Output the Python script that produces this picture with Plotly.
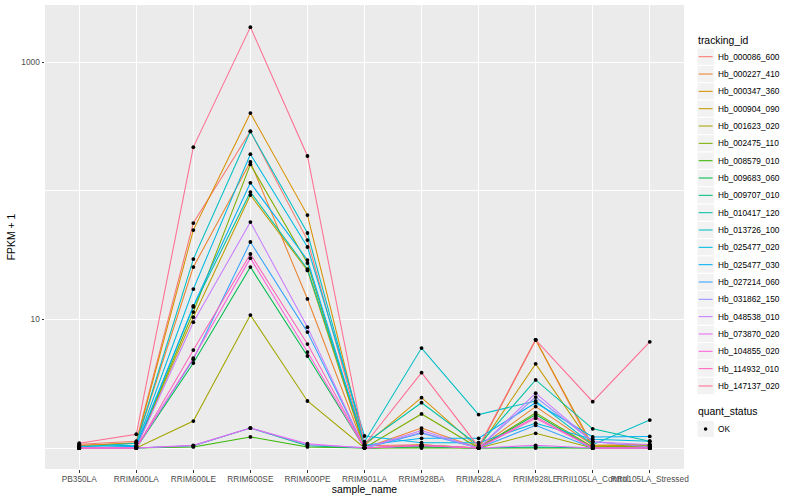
import plotly.graph_objects as go

samples = ["PB350LA", "RRIM600LA", "RRIM600LE", "RRIM600SE", "RRIM600PE",
           "RRIM901LA", "RRIM928BA", "RRIM928LA", "RRIM928LE",
           "RRII105LA_Control", "RRII105LA_Stressed"]

tracking_ids = ["Hb_000086_600", "Hb_000227_410", "Hb_000347_360", "Hb_000904_090",
                "Hb_001623_020", "Hb_002475_110", "Hb_008579_010", "Hb_009683_060",
                "Hb_009707_010", "Hb_010417_120", "Hb_013726_100", "Hb_025477_020",
                "Hb_025477_030", "Hb_027214_060", "Hb_031862_150", "Hb_048538_010",
                "Hb_073870_020", "Hb_104855_020", "Hb_114932_010", "Hb_147137_020"]

# FPKM + 1 per sample (order of `samples`)
hb_000086_600 = [1.07, 1.13, 56.0, 290.0, 41.3, 1.04, 1.06, 1.00, 6.93, 1.00, 1.00]
hb_000227_410 = [1.05, 1.09, 25.5, 167.0, 14.4, 1.00, 1.43, 1.00, 2.10, 1.05, 1.07]
hb_000347_360 = [1.04, 1.10, 49.4, 401.0, 64.6, 1.05, 2.46, 1.00, 6.93, 1.04, 1.05]
hb_000904_090 = [1.00, 1.02, 10.4, 92.5, 24.0, 1.00, 1.06, 1.00, 4.51, 1.03, 1.03]
hb_001623_020 = [1.00, 1.00, 1.62, 10.8, 2.32, 1.00, 1.02, 1.00, 1.30, 1.00, 1.00]
hb_002475_110 = [1.00, 1.01, 11.4, 160.0, 27.4, 1.00, 1.84, 1.00, 1.88, 1.02, 1.04]
hb_008579_010 = [1.00, 1.00, 1.02, 1.22, 1.02, 1.00, 1.00, 1.00, 1.00, 1.00, 1.00]
hb_009683_060 = [1.00, 1.00, 4.58, 25.5, 5.19, 1.00, 1.03, 1.00, 1.82, 1.00, 1.00]
hb_009707_010 = [1.00, 1.00, 1.04, 1.43, 1.04, 1.00, 1.03, 1.00, 1.02, 1.00, 1.00]
hb_010417_120 = [1.00, 1.02, 12.5, 97.5, 24.6, 1.08, 2.25, 1.05, 3.38, 1.41, 1.13]
hb_013726_100 = [1.02, 1.09, 29.4, 288.0, 46.9, 1.12, 5.98, 1.82, 2.32, 1.06, 1.65]
hb_025477_020 = [1.03, 1.05, 17.2, 192.0, 36.5, 1.24, 1.10, 1.10, 1.56, 1.17, 1.13]
hb_025477_030 = [1.00, 1.03, 12.7, 115.0, 28.9, 1.05, 1.19, 1.19, 2.25, 1.22, 1.23]
hb_027214_060 = [1.00, 1.01, 4.90, 39.9, 7.96, 1.00, 1.30, 1.00, 1.50, 1.00, 1.00]
hb_031862_150 = [1.00, 1.00, 1.04, 1.43, 1.06, 1.01, 1.32, 1.00, 2.49, 1.12, 1.02]
hb_048538_010 = [1.00, 1.01, 9.50, 57.0, 8.70, 1.00, 1.37, 1.00, 2.67, 1.12, 1.06]
hb_073870_020 = [1.00, 1.00, 1.05, 1.43, 1.08, 1.00, 1.05, 1.00, 1.05, 1.00, 1.00]
hb_104855_020 = [1.00, 1.00, 5.00, 29.9, 5.57, 1.00, 1.04, 1.00, 1.70, 1.00, 1.00]
hb_114932_010 = [1.00, 1.00, 5.77, 32.2, 6.43, 1.00, 1.05, 1.00, 1.75, 1.00, 1.00]
hb_147137_020 = [1.09, 1.28, 218.0, 1866.0, 186.0, 1.06, 3.85, 1.02, 6.93, 2.29, 6.69]

series_values = [hb_000086_600, hb_000227_410, hb_000347_360, hb_000904_090,
                 hb_001623_020, hb_002475_110, hb_008579_010, hb_009683_060,
                 hb_009707_010, hb_010417_120, hb_013726_100, hb_025477_020,
                 hb_025477_030, hb_027214_060, hb_031862_150, hb_048538_010,
                 hb_073870_020, hb_104855_020, hb_114932_010, hb_147137_020]

colors = ["#F8766D", "#EA8331", "#D89000", "#C09B00", "#A3A500", "#7CAE00",
          "#39B600", "#00BB4E", "#00BF7D", "#00C1A3", "#00BFC4", "#00BAE0",
          "#00B0F6", "#35A2FF", "#9590FF", "#C77CFF", "#E76BF3", "#FA62DB",
          "#FF62BC", "#FF6C91"]

FONT = "Liberation Sans, Arial, Helvetica, sans-serif"
TICK_SIZE = 8.3
TITLE_SIZE = 10.4
W, H = 800, 500
PL, PR, PT, PB = 45, 684, 5, 469  # plot area in pixels


def px(x):
    return (x - PL) / (PR - PL)


def py(y):
    return (PB - y) / (PB - PT)


fig = go.Figure()
for name, vals, col in zip(tracking_ids, series_values, colors):
    fig.add_trace(go.Scatter(x=samples, y=vals, mode="lines", name=name,
                             line=dict(color=col, width=1.05), showlegend=False,
                             hoverinfo="x+y+name"))

all_x = [s for vals in series_values for s in samples]
all_y = [v for vals in series_values for v in vals]
fig.add_trace(go.Scatter(x=all_x, y=all_y, mode="markers", name="OK",
                         marker=dict(color="black", size=3.8), showlegend=False))

shapes = []
annotations = []

# legend: tracking_id
annotations.append(dict(x=px(696), y=py(40), xref="paper", yref="paper",
                        text="tracking_id", showarrow=False, xanchor="left",
                        yanchor="middle", font=dict(family=FONT, size=TITLE_SIZE, color="black")))
step = 17.33
for i, (name, col) in enumerate(zip(tracking_ids, colors)):
    cy = 56.7 + step * i
    shapes.append(dict(type="rect", xref="paper", yref="paper",
                       x0=px(697), x1=px(714.3), y0=py(cy - step / 2), y1=py(cy + step / 2),
                       fillcolor="#F2F2F2", line=dict(color="white", width=1), layer="above"))
    shapes.append(dict(type="line", xref="paper", yref="paper",
                       x0=px(698.7), x1=px(712.6), y0=py(cy), y1=py(cy),
                       line=dict(color=col, width=1.05), layer="above"))
    annotations.append(dict(x=px(716), y=py(cy), xref="paper", yref="paper",
                            text=name, showarrow=False, xanchor="left", yanchor="middle",
                            font=dict(family=FONT, size=TICK_SIZE, color="black")))

# legend: quant_status
annotations.append(dict(x=px(696), y=py(411), xref="paper", yref="paper",
                        text="quant_status", showarrow=False, xanchor="left",
                        yanchor="middle", font=dict(family=FONT, size=TITLE_SIZE, color="black")))
cy = 429
shapes.append(dict(type="rect", xref="paper", yref="paper",
                   x0=px(697), x1=px(714.3), y0=py(cy - step / 2), y1=py(cy + step / 2),
                   fillcolor="#F2F2F2", line=dict(color="white", width=1), layer="above"))
shapes.append(dict(type="circle", xref="paper", yref="paper",
                   x0=px(703.8), x1=px(707.4), y0=py(cy - 1.8), y1=py(cy + 1.8),
                   fillcolor="black", line=dict(color="black", width=0), layer="above"))
annotations.append(dict(x=px(716), y=py(cy), xref="paper", yref="paper",
                        text="OK", showarrow=False, xanchor="left", yanchor="middle",
                        font=dict(family=FONT, size=TICK_SIZE, color="black")))

fig.update_layout(
    width=W, height=H,
    margin=dict(l=PL, r=W - PR, t=PT, b=H - PB, autoexpand=False),
    paper_bgcolor="white", plot_bgcolor="#EBEBEB",
    font=dict(family=FONT, size=TICK_SIZE, color="#4D4D4D"),
    shapes=shapes, annotations=annotations,
    showlegend=False,
)
fig.update_xaxes(
    type="category", categoryorder="array", categoryarray=samples,
    range=[-0.6, len(samples) - 0.4],
    showgrid=True, gridcolor="white", gridwidth=1.1,
    ticks="outside", ticklen=2.5, tickcolor="#333333", tickwidth=1,
    tickangle=0, tickfont=dict(family=FONT, size=TICK_SIZE, color="#4D4D4D"),
    showline=False, zeroline=False,
    title=dict(text="sample_name", font=dict(family=FONT, size=TITLE_SIZE, color="black"), standoff=1),
    automargin=False,
)
fig.update_yaxes(
    type="log", range=[-0.163, 3.443],
    tickvals=[10, 1000], ticktext=["10", "1000"],
    showgrid=True, gridcolor="white", gridwidth=1.1,
    minor=dict(tickvals=[1, 100], showgrid=True, gridcolor="white", gridwidth=0.55, ticks=""),
    ticks="outside", ticklen=2.5, tickcolor="#333333", tickwidth=1,
    tickfont=dict(family=FONT, size=TICK_SIZE, color="#4D4D4D"),
    showline=False, zeroline=False,
    title=dict(text="FPKM + 1", font=dict(family=FONT, size=TITLE_SIZE, color="black"), standoff=3),
    automargin=False,
)

fig.write_html("out.html", config={"displayModeBar": False},
               post_script="document.body.style.margin='0';")
